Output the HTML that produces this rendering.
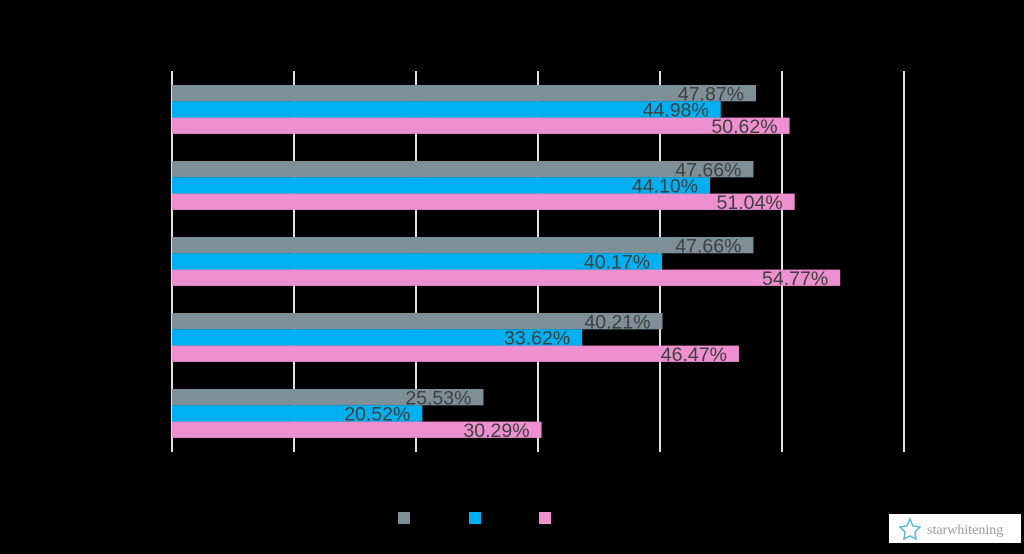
<!DOCTYPE html>
<html><head><meta charset="utf-8"><style>
html,body{margin:0;padding:0;background:#000;width:1024px;height:554px;overflow:hidden}
svg{display:block}
</style></head><body>
<svg id="chart" width="1024" height="554">
<g id="grid"></g><g id="bars"></g><g id="labels"></g>
<g>
<rect x="398" y="512" width="12" height="12" fill="#7f8f98"/>
<rect x="469" y="512" width="12" height="12" fill="#00b0f0"/>
<rect x="539" y="512" width="12" height="12" fill="#ee90d0"/>
</g>
<g>
<rect x="889" y="514" width="132" height="29" fill="#fff"/>
<path d="M910 519 L913 526 L920 527 L915 532 L916 539 L910 536 L904 539 L905 532 L900 527 L907 526 Z" fill="none" stroke="#5bb8d0" stroke-width="1.5"/>
<text x="927" y="534" font-family="Liberation Serif, serif" font-size="14" fill="#999">starwhitening</text>
</g>
</svg>
<script>
const categories=["A","B","C","D","E"];
const series1=[47.87,47.66,47.66,40.21,25.53];
const series2=[44.98,44.10,40.17,33.62,20.52];
const series3=[50.62,51.04,54.77,46.47,30.29];
const ticks=[0,10,20,30,40,50,60];
const colors=["#7f8f98","#00b0f0","#ee90d0"];
const NS="http://www.w3.org/2000/svg";
const x0=172,pxPer=12.2,gy0=71,gy1=452,groupTop=85,groupStep=76,barH=16.3;
const xs=v=>x0+v*pxPer;
function mk(t,a,p){const e=document.createElementNS(NS,t);for(const k in a)e.setAttribute(k,a[k]);p.appendChild(e);return e;}
const grid=document.getElementById('grid'),bars=document.getElementById('bars'),labels=document.getElementById('labels');
ticks.forEach(t=>{
 const l=mk('line',{x1:xs(t),x2:xs(t),y1:gy0,y2:gy1,stroke:'#e0e0e0','stroke-width':2},grid);
 
 
});
const all=[series1,series2,series3];
categories.forEach((c,i)=>{
 all.forEach((s,j)=>{
  const y=groupTop+i*groupStep+j*barH;
  const r=mk('rect',{x:x0,y:y,width:xs(s[i])-x0,height:barH,fill:colors[j]},bars);
  
  
  const t=mk('text',{x:xs(s[i])-12,y:y+barH-1,'text-anchor':'end','font-family':'Liberation Sans, sans-serif','font-size':19.5,fill:'#404040'},labels);
  t.textContent=s[i].toFixed(2)+'%';
  
  
 });
});
</script>
</body></html>
